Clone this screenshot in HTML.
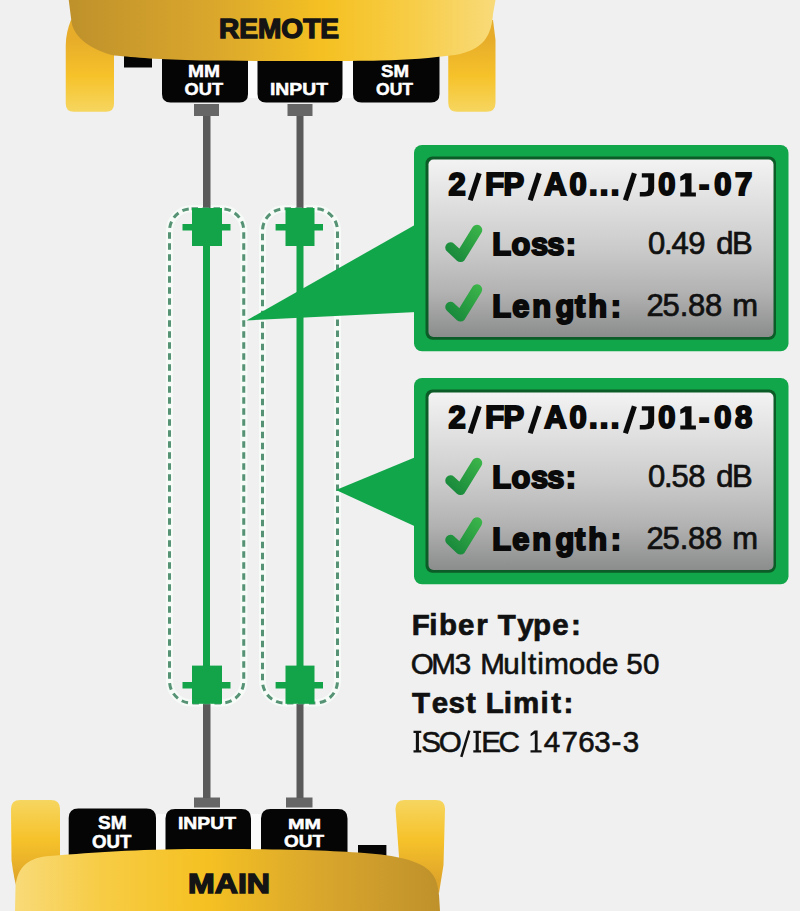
<!DOCTYPE html>
<html><head><meta charset="utf-8">
<style>
html,body{margin:0;padding:0;background:#f0f0f0;}
body{width:800px;height:911px;overflow:hidden;position:relative;}
svg{position:absolute;left:0;top:0;display:block;}
text{font-family:"Liberation Sans",sans-serif;}
</style></head>
<body>
<svg width="800" height="911" viewBox="0 0 800 911">
<defs>
  <linearGradient id="topBody" x1="69" y1="0" x2="494" y2="0" gradientUnits="userSpaceOnUse">
    <stop offset="0" stop-color="#bf912b"/>
    <stop offset="0.35" stop-color="#dba82c"/>
    <stop offset="0.6" stop-color="#f5c122"/>
    <stop offset="0.8" stop-color="#f7cc45"/>
    <stop offset="1" stop-color="#f8da78"/>
  </linearGradient>
  <linearGradient id="botBody" x1="15" y1="0" x2="440" y2="0" gradientUnits="userSpaceOnUse">
    <stop offset="0" stop-color="#f8da78"/>
    <stop offset="0.2" stop-color="#f7cc45"/>
    <stop offset="0.45" stop-color="#f5c122"/>
    <stop offset="0.7" stop-color="#dba82c"/>
    <stop offset="1" stop-color="#bf912b"/>
  </linearGradient>
  <linearGradient id="legTop" x1="0" y1="40" x2="0" y2="112" gradientUnits="userSpaceOnUse">
    <stop offset="0" stop-color="#e7ad2a"/>
    <stop offset="0.5" stop-color="#f6c22a"/>
    <stop offset="1" stop-color="#f6d660"/>
  </linearGradient>
  <linearGradient id="legBot" x1="0" y1="800" x2="0" y2="880" gradientUnits="userSpaceOnUse">
    <stop offset="0" stop-color="#f6d660"/>
    <stop offset="0.5" stop-color="#f6c22a"/>
    <stop offset="1" stop-color="#dfa52a"/>
  </linearGradient>
  <linearGradient id="panel" x1="0" y1="0" x2="0" y2="1">
    <stop offset="0" stop-color="#f3f3f3"/>
    <stop offset="0.25" stop-color="#dfdfdf"/>
    <stop offset="0.5" stop-color="#cbcbcb"/>
    <stop offset="0.75" stop-color="#b2b2b2"/>
    <stop offset="1" stop-color="#8b8c8c"/>
  </linearGradient>
  <linearGradient id="chkG" x1="448" y1="260" x2="480" y2="226" gradientUnits="userSpaceOnUse">
    <stop offset="0" stop-color="#15843a"/>
    <stop offset="1" stop-color="#3cb54a"/>
  </linearGradient>
  <path id="chk" d="M450.5 247.5 L460.5 256.8 L477 230" fill="none" stroke="url(#chkG)" stroke-width="10.5" stroke-linecap="round" stroke-linejoin="round"/>
</defs>

<g fill="none" stroke="#f6fbf8" stroke-width="7">
  <rect x="169.5" y="208.75" width="74.25" height="494.25" rx="22"/>
  <rect x="262.5" y="208.75" width="75" height="494.25" rx="22"/>
</g>
<!-- ===== TOP DEVICE (REMOTE) ===== -->
<path d="M71 20 H114 V103.75 Q114 111.75 106 111.75 H73.75 Q65.75 111.75 65.75 103.75 V45 Q66 32 71 20 Z" fill="url(#legTop)"/>
<path d="M448.25 20 H493 L495.5 40 V102.75 Q495.5 111.75 486.5 111.75 H457.25 Q448.25 111.75 448.25 102.75 Z" fill="url(#legTop)"/>
<g fill="#fbfbfb"><rect x="247" y="55" width="11.5" height="43"/><rect x="341.5" y="55" width="12.5" height="43"/></g>
<rect x="124" y="50" width="28" height="17.5" fill="#050505"/>
<path d="M162 50 H248 V94 Q248 102.5 239.5 102.5 H170.5 Q162 102.5 162 94 Z" fill="#050505"/>
<path d="M257.5 50 H342.5 V94 Q342.5 102.5 334 102.5 H266 Q257.5 102.5 257.5 94 Z" fill="#050505"/>
<path d="M353 50 H439.5 V94 Q439.5 102.5 431 102.5 H361.5 Q353 102.5 353 94 Z" fill="#050505"/>
<path d="M68.75 0 H495.5 L493 14 C491.5 34 485 50 455 55 C430 58 410 60 380 60.5 C340 61.5 260 61 200 60.5 C160 59.5 135 57.5 114 55.5 C92 50 74 38 71.5 22 Z" fill="url(#topBody)"/>
<text id="t1" stroke="#141414" stroke-width="1.4" x="219.00" y="38.30" font-size="27.37" font-weight="bold" fill="#141414" textLength="120.00" lengthAdjust="spacingAndGlyphs">REMOTE</text>
<g fill="#fff" font-weight="bold" font-size="17">
  <text id="t2" stroke="#fff" stroke-width="0.5" x="188.00" y="77.25" textLength="32.00" lengthAdjust="spacingAndGlyphs" font-size="16.76">MM</text>
  <text id="t3" stroke="#fff" stroke-width="0.5" x="184.60" y="95.35" textLength="38.40" lengthAdjust="spacingAndGlyphs" font-size="16.90">OUT</text>
  <text id="t4" stroke="#fff" stroke-width="0.5" x="270.00" y="95.35" textLength="58.00" lengthAdjust="spacingAndGlyphs" font-size="16.90">INPUT</text>
  <text id="t5" stroke="#fff" stroke-width="0.5" x="381.00" y="77.25" textLength="28.00" lengthAdjust="spacingAndGlyphs" font-size="16.76">SM</text>
  <text id="t6" stroke="#fff" stroke-width="0.5" x="376.00" y="95.35" textLength="37.00" lengthAdjust="spacingAndGlyphs" font-size="16.90">OUT</text>
</g>
<!-- top connectors and cables -->
<rect x="194" y="104" width="25" height="12" fill="#666"/>
<rect x="287.5" y="104" width="25" height="12" fill="#666"/>
<rect x="203" y="116" width="7.5" height="92" fill="#5a5a5a"/>
<rect x="296.5" y="116" width="7" height="92" fill="#5a5a5a"/>

<!-- ===== BOTTOM DEVICE (MAIN) ===== -->
<path d="M11 809 Q11 800 20 800 H51 Q60 800 60 809 V870 L18 893 Q14 880 11.5 860 Z" fill="url(#legBot)"/>
<path d="M395.5 809 Q395.5 800 404.5 800 H436 Q445 800 445 809 L443.5 865 L439 893 L400 870 Z" fill="url(#legBot)"/>
<g fill="#fbfbfb"><rect x="155" y="814" width="11.5" height="50"/><rect x="250" y="814" width="12" height="50"/></g>
<rect x="358" y="845" width="28.4" height="20" fill="#050505"/>
<path d="M68.7 870 V818 Q68.7 808.4 78.3 808.4 H146.4 Q156 808.4 156 818 V870 Z" fill="#050505"/>
<path d="M165.5 870 V818.5 Q165.5 809 175 809 H241.5 Q251 809 251 818.5 V870 Z" fill="#050505"/>
<path d="M261 870 V818.5 Q261 809 270.5 809 H338 Q347.5 809 347.5 818.5 V870 Z" fill="#050505"/>
<path d="M15 911 L15.5 887 C17 866 30 857 50 856 C100 852 130 849.5 200 849 C280 849 330 850 370 853.5 C400 856 425 862 433 875 C437 881 438 887 439 895 L440 911 Z" fill="url(#botBody)"/>
<text id="t7" stroke="#141414" stroke-width="1.4" x="188.00" y="893.30" font-size="27.37" font-weight="bold" fill="#141414" textLength="82.00" lengthAdjust="spacingAndGlyphs">MAIN</text>
<g fill="#fff" font-weight="bold" font-size="17">
  <text id="t8" stroke="#fff" stroke-width="0.5" x="98.00" y="829.15" textLength="28.50" lengthAdjust="spacingAndGlyphs" font-size="18.02">SM</text>
  <text id="t9" stroke="#fff" stroke-width="0.5" x="92.00" y="847.75" textLength="39.45" lengthAdjust="spacingAndGlyphs" font-size="17.46">OUT</text>
  <text id="t10" stroke="#fff" stroke-width="0.5" x="178.00" y="828.75" textLength="58.00" lengthAdjust="spacingAndGlyphs" font-size="16.06">INPUT</text>
  <text id="t11" stroke="#fff" stroke-width="0.5" x="288.00" y="828.75" textLength="33.00" lengthAdjust="spacingAndGlyphs" font-size="15.36">MM</text>
  <text id="t12" stroke="#fff" stroke-width="0.5" x="284.00" y="846.75" textLength="40.00" lengthAdjust="spacingAndGlyphs" font-size="16.06">OUT</text>
</g>
<rect x="194" y="797.5" width="26" height="10" fill="#666"/>
<rect x="286" y="797.5" width="26.5" height="10" fill="#666"/>
<rect x="203" y="704" width="7.5" height="94" fill="#5a5a5a"/>
<rect x="296.5" y="704" width="7" height="94" fill="#5a5a5a"/>

<!-- ===== FIBER LINKS ===== -->

<g fill="none" stroke="#569374" stroke-width="3" stroke-dasharray="6.5 4.5">
  <rect x="169.5" y="208.75" width="74.25" height="494.25" rx="22"/>
  <rect x="262.5" y="208.75" width="75" height="494.25" rx="22"/>
</g>
<g fill="#13a449">
  <rect x="203" y="246" width="7" height="420"/>
  <rect x="296.5" y="246" width="7" height="420"/>
  <rect x="192" y="208" width="30" height="38"/>
  <rect x="182.5" y="224" width="48" height="6.5"/>
  <rect x="192" y="665.6" width="30" height="38.2"/>
  <rect x="182.5" y="682" width="48" height="6.5"/>
  <rect x="285.5" y="208" width="29" height="38"/>
  <rect x="275.6" y="224" width="47.4" height="6.5"/>
  <rect x="285.5" y="665.6" width="29" height="38.2"/>
  <rect x="275.6" y="682" width="47.4" height="6.5"/>
</g>

<!-- ===== CALLOUT 1 ===== -->
<g>
  <polygon points="246.5,320.5 417,223.7 417,311.9" fill="#12a64a"/>
  <rect x="414" y="145" width="374.5" height="206.25" rx="8" fill="#12a64a"/>
  <rect x="425.5" y="156.5" width="350.5" height="183.25" rx="7" fill="#0c5c27"/>
  <rect x="428.5" y="159.5" width="345" height="177.5" rx="5" fill="url(#panel)"/>
  <use href="#chk" x="0" y="0"/>
  <use href="#chk" x="0" y="59.5"/>
  <text id="t13" x="448.49 485.19 503.39 544.17 569.43 589.12 599.72 610.82 658.23 699.07 714.23 735.02" y="195.40" font-size="30.9" font-weight="bold" stroke="#0a0a0a" stroke-width="2.0" fill="#0a0a0a">2FPA0...0-07</text><g id="t13s" stroke="#0a0a0a" stroke-width="5.2"><line x1="479.20" y1="173.30" x2="470.20" y2="200.30"/><line x1="539.20" y1="173.30" x2="530.20" y2="200.30"/><line x1="634.40" y1="173.30" x2="625.40" y2="200.30"/></g>
  <text id="t14" x="492.34 511.59 531.03 547.33 565.87" y="254.60" font-size="30.8" font-weight="bold" stroke="#0a0a0a" stroke-width="2.0" fill="#0a0a0a">Loss:</text>
  <text id="t15" x="492.34 512.16 532.13 555.49 575.07 588.27 610.77" y="316.70" font-size="30.8" font-weight="bold" stroke="#0a0a0a" stroke-width="2.0" fill="#0a0a0a">Length:</text>
  <text id="t16" x="647.98 664.09 671.48 688.29 716.13 731.96" y="253.95" font-size="31.0" stroke="#111" stroke-width="0.7" fill="#111">0.49dB</text>
  <text id="t17" x="646.38 662.61 679.79 688.08 704.88 732.28" y="315.75" font-size="31.0" stroke="#111" stroke-width="0.7" fill="#111">25.88m</text>
</g>

<!-- ===== CALLOUT 2 ===== -->
<g>
  <polygon points="336,490 417,456.6 417,527.3" fill="#12a64a"/>
  <g transform="translate(0,233)">
  <rect x="414" y="145" width="374.5" height="206.25" rx="8" fill="#12a64a"/>
  <rect x="425.5" y="156.5" width="350.5" height="183.25" rx="7" fill="#0c5c27"/>
  <rect x="428.5" y="159.5" width="345" height="177.5" rx="5" fill="url(#panel)"/>
  <use href="#chk" x="0" y="0"/>
  <use href="#chk" x="0" y="59.5"/>
  </g>
  <text id="t18" x="448.49 485.19 503.39 544.17 569.43 589.12 599.72 610.82 658.23 699.07 714.23 734.99" y="428.40" font-size="30.9" font-weight="bold" stroke="#0a0a0a" stroke-width="2.0" fill="#0a0a0a">2FPA0...0-08</text><g id="t18s" stroke="#0a0a0a" stroke-width="5.2"><line x1="479.20" y1="406.30" x2="470.20" y2="433.30"/><line x1="539.20" y1="406.30" x2="530.20" y2="433.30"/><line x1="634.40" y1="406.30" x2="625.40" y2="433.30"/></g>
  <text id="t19" x="492.34 511.59 531.03 547.33 565.87" y="487.60" font-size="30.8" font-weight="bold" stroke="#0a0a0a" stroke-width="2.0" fill="#0a0a0a">Loss:</text>
  <text id="t20" x="492.34 512.16 532.13 555.49 575.07 588.27 610.77" y="549.70" font-size="30.8" font-weight="bold" stroke="#0a0a0a" stroke-width="2.0" fill="#0a0a0a">Length:</text>
  <text id="t21" x="647.98 664.09 671.41 688.28 716.13 731.96" y="486.95" font-size="31.0" stroke="#111" stroke-width="0.7" fill="#111">0.58dB</text>
  <text id="t22" x="646.38 662.61 679.79 688.08 704.88 732.28" y="548.75" font-size="31.0" stroke="#111" stroke-width="0.7" fill="#111">25.88m</text>
</g>

<!-- ===== INFO TEXT ===== -->
<g fill="#111">
  <text id="t23" x="411.64 429.22 439.02 457.97 476.31 497.68 517.26 533.12 552.32 570.99" y="634.65" font-size="29.5" font-weight="bold" stroke="#111" stroke-width="0.7" fill="#111">FiberType:</text>
  <text id="t24" x="410.80 431.27 454.86 480.17 503.19 520.30 527.97 537.32 544.36 568.67 585.50 602.10 626.20 643.02" y="673.70" font-size="29.6" stroke="#111" stroke-width="0.6" fill="#111">OM3Multimode50</text>
  <text id="t25" x="411.98 431.72 448.48 465.89 485.76 503.72 513.08 540.62 551.34 563.49" y="712.95" font-size="29.5" font-weight="bold" stroke="#111" stroke-width="0.7" fill="#111">TestLimit:</text>
  <text id="t26" x="421.24 438.80 481.15 498.52 543.86 561.45 578.37 594.16 611.57 622.66" y="751.70" font-size="29.6" stroke="#111" stroke-width="0.6" fill="#111">SOEC4763-3</text>
</g>
<!-- custom glyphs (serif I, based 1, wide slash) -->
<g id="cg">
  <path d="M685.2 173.3 H691.5 V192.6 H695.9 V196.4 H680.3 V192.6 H685.2 V179 L680.3 181 V176.4 Z" fill="#0a0a0a"/>
  <path d="M685.2 406.3 H691.5 V425.6 H695.9 V429.4 H680.3 V425.6 H685.2 V412 L680.3 414 V409.4 Z" fill="#0a0a0a"/>
  <path d="M534.6 730.5 H537.6 V750.2 H541.6 V752.5 H530.5 V750.2 H534.8 V733.8 L530.6 736.3 V733.7 Z" fill="#111"/>
  <path d="M413.50 730.8 H421.30 V733.1 H418.95 V750.2 H421.30 V752.5 H413.50 V750.2 H415.85 V733.1 H413.50 Z" fill="#111"/>
  <path d="M473.30 730.8 H481.10 V733.1 H478.75 V750.2 H481.10 V752.5 H473.30 V750.2 H475.65 V733.1 H473.30 Z" fill="#111"/>
  <line x1="469.3" y1="730.6" x2="461.3" y2="756.9" stroke="#111" stroke-width="2.5"/>
  <path d="M641.8 173.2 H654.2 V188.5 Q654.2 196.6 645 196.6 H639.8 V191.9 H644.3 Q648.2 191.9 648.2 188.0 V177.4 H641.8 Z" fill="#0a0a0a"/>
  <path d="M641.8 406.2 H654.2 V421.5 Q654.2 429.6 645 429.6 H639.8 V424.9 H644.3 Q648.2 424.9 648.2 421.0 V410.4 H641.8 Z" fill="#0a0a0a"/>
</g>
</svg>
</body></html>
